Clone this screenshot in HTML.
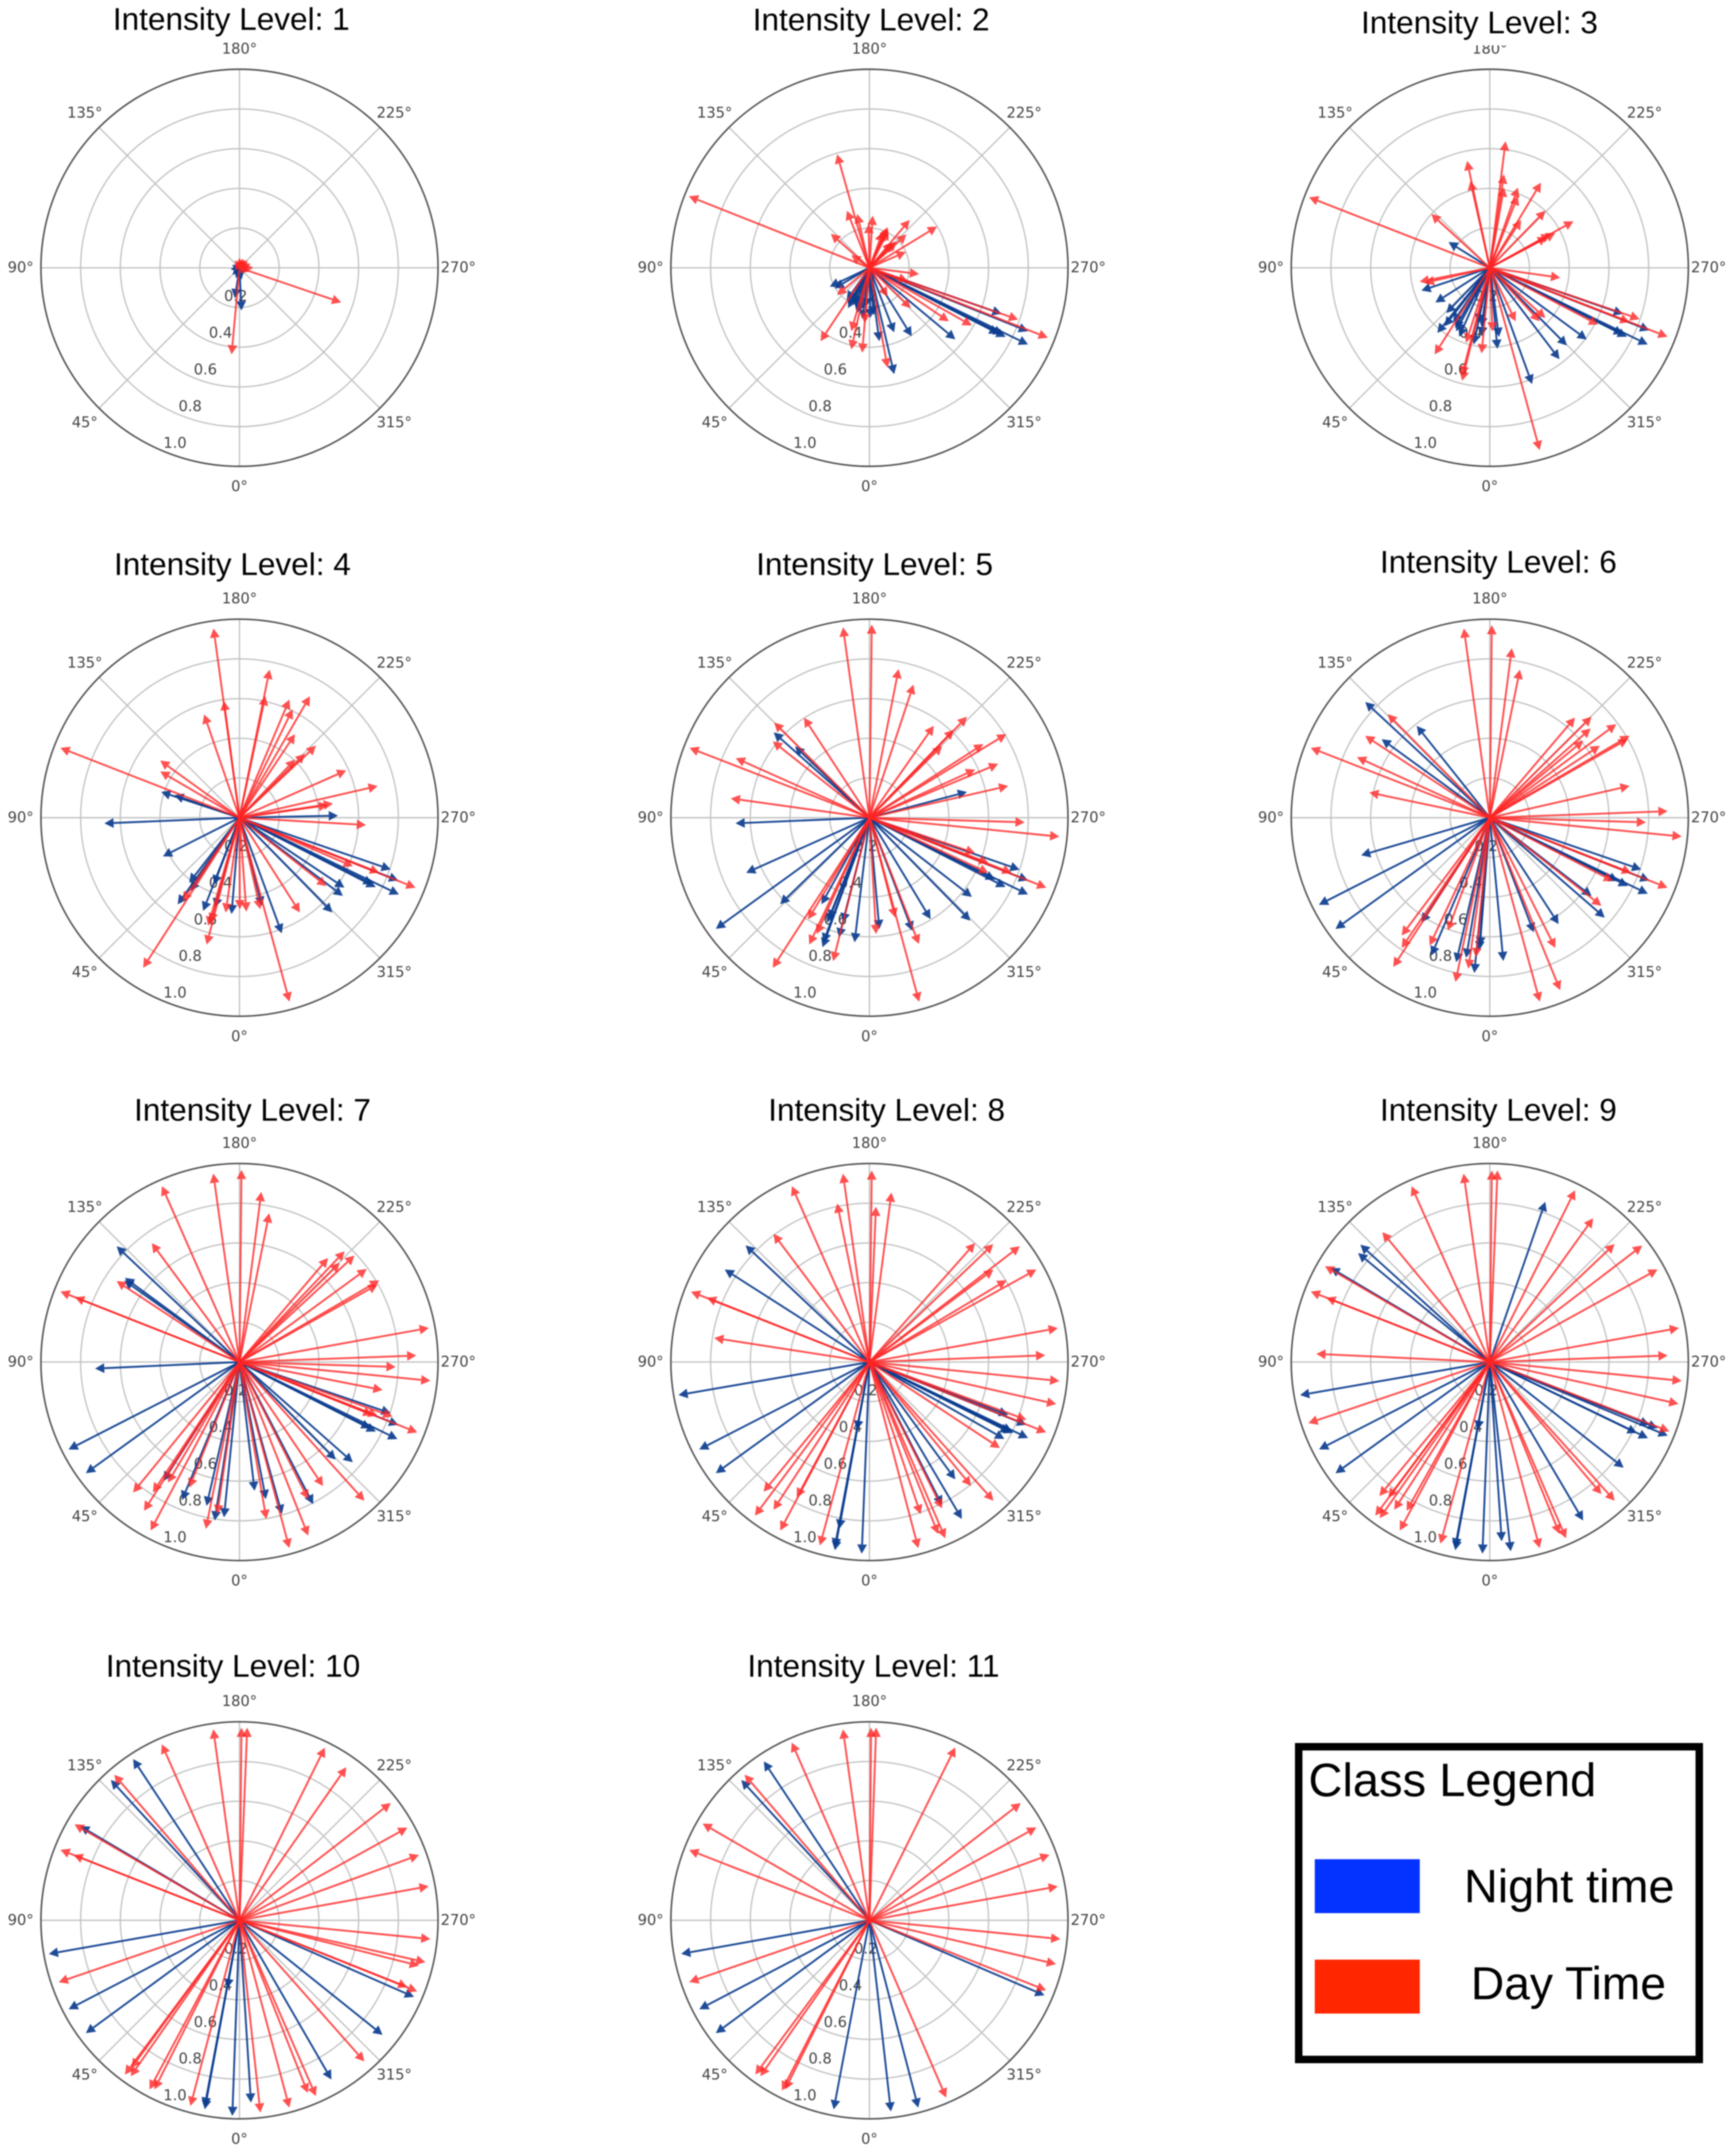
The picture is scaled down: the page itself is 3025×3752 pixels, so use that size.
<!DOCTYPE html>
<html lang="en">
<head>
<meta charset="utf-8">
<title>Intensity Level Polar Arrow Charts</title>
<style>
html,body{margin:0;padding:0;background:#fff;}
#figure{display:block;width:3025px;height:3752px;filter:blur(1px);background:#fff;}
.title{font-family:"Liberation Sans",sans-serif;font-size:55px;fill:#000;text-anchor:middle;}
.tick{font-family:"DejaVu Sans",sans-serif;font-size:25.5px;fill:#444;text-anchor:middle;dominant-baseline:central;}
.legend-text{font-family:"Liberation Sans",sans-serif;fill:#000;}
</style>
</head>
<body>
<svg id="figure" xmlns="http://www.w3.org/2000/svg" width="3025" height="3752" viewBox="0 0 3025 3752">
  <g id="panels"></g>
  <rect x="0" y="0" width="2000" height="17" fill="#fff"></rect>
  <rect x="2520" y="62" width="160" height="17" fill="#fff"></rect>
  <text class="title" x="403" y="52">Intensity Level: 1</text>
  <text class="title" x="1518" y="53">Intensity Level: 2</text>
  <text class="title" x="2578" y="58">Intensity Level: 3</text>
  <text class="title" x="405" y="1002">Intensity Level: 4</text>
  <text class="title" x="1524" y="1002">Intensity Level: 5</text>
  <text class="title" x="2611" y="998">Intensity Level: 6</text>
  <text class="title" x="440" y="1953">Intensity Level: 7</text>
  <text class="title" x="1545" y="1953">Intensity Level: 8</text>
  <text class="title" x="2611" y="1953">Intensity Level: 9</text>
  <text class="title" x="406" y="2922">Intensity Level: 10</text>
  <text class="title" x="1522" y="2922">Intensity Level: 11</text>
  <g>
    <rect x="2263" y="3044" width="698" height="545" fill="#fff" stroke="#000" stroke-width="13"></rect>
    <text class="legend-text" x="2280" y="3130" font-size="82">Class Legend</text>
    <rect x="2291" y="3240" width="183" height="94" fill="#0433ff"></rect>
    <text class="legend-text" x="2551" y="3315" font-size="81.5">Night time</text>
    <rect x="2291" y="3415" width="183" height="94" fill="#ff2600"></rect>
    <text class="legend-text" x="2563" y="3484" font-size="80.5">Day Time</text>
  </g>
</svg>
<script>
// Each pair: [direction in degrees, magnitude]
const level1Night = [[357.3,.215],[8.7,.155],[80,.045],[45,.05],[20,.055],[350,.06],[110,.04]];
const level1Day = [[288.8,.541],[5.2,.438],[270,.07],[180,.05],[230,.055],[250,.06],[200,.05],[150,.045],[290,.055],[215,.05]];

const level2Night = [[295.8,.887],[296.9,.769],[291.8,.86],[289.2,.705],[309.8,.563],[328.3,.405],[339,.348],[346.9,.55],[352.3,.373],[359,.253],[15.5,.237],[30.1,.215],[64.6,.221],[59.4,.203],[25,.197],[22,.2],[18,.22],[35,.2],[28,.23],[8,.26],[12,.22],[5,.2],[355,.24],[296.5,.75],[297,.73]];
const level2Day = [[111.6,.978],[164.1,.594],[158.5,.309],[167.2,.278],[183.6,.263],[179,.221],[131.4,.259],[125,.111],[220,.315],[238.6,.399],[204,.224],[200.3,.192],[228,.251],[223.9,.18],[246.4,.2],[277.2,.252],[291.4,.965],[289.2,.793],[299.4,.592],[304,.482],[314.3,.291],[327.7,.171],[289,.204],[33.7,.444],[12.6,.421],[4.9,.429],[5.1,.279],[16,.332],[50,.213],[349.7,.511],[205,.22],[203,.2],[207,.21],[226,.19],[222,.17]];

const level3Night = [[295.9,.884],[296.7,.773],[291.4,.863],[289.1,.71],[306.5,.607],[315.2,.551],[322.7,.579],[340,.623],[352.4,.351],[354.6,.41],[6.9,.347],[11.9,.395],[12.5,.285],[28,.362],[38.9,.421],[43.9,.316],[57.5,.325],[71.6,.363],[122,.245],[37.7,.372],[30,.35],[24,.38],[34,.33],[8,.3],[296.5,.75]];
const level3Day = [[111.3,.977],[187.1,.642],[168,.55],[167.4,.448],[188.6,.476],[190,.411],[199.3,.428],[201.3,.389],[211,.5],[224.2,.401],[213.2,.288],[240.9,.482],[242,.373],[241.7,.327],[132.6,.4],[278,.358],[291.2,.96],[288.9,.797],[291.3,.755],[297.7,.616],[312.1,.377],[317,.368],[334.3,.299],[344.7,.952],[357.6,.32],[5.5,.433],[13.8,.586],[17.6,.396],[32.5,.517],[78.8,.36],[77,.336],[14.5,.56],[241,.35]];

const level4Night = [[295.7,.891],[297,.77],[291.6,.86],[288.9,.805],[307.1,.653],[303.7,.635],[315.6,.668],[339.9,.62],[345.7,.458],[4.7,.487],[15.2,.469],[21.3,.504],[20.9,.36],[33.9,.445],[37.7,.414],[35.5,.536],[63.2,.432],[87.6,.681],[268.8,.496],[108.2,.415],[109.1,.347],[296.5,.75]];
const level4Day = [[111.3,.968],[172.2,.962],[172.4,.593],[161.1,.55],[125.8,.492],[120.3,.462],[191.5,.761],[192,.626],[202.9,.646],[206.1,.608],[210.1,.707],[213.6,.505],[226.7,.529],[225.7,.46],[223.7,.405],[246.1,.588],[257.1,.714],[261.4,.476],[261.9,.45],[273.3,.638],[291.7,.954],[291.5,.756],[293.2,.621],[308.2,.557],[327.5,.566],[344.8,.96],[347.2,.473],[355.8,.474],[359.8,.461],[8.3,.483],[14.5,.66],[16.2,.567],[15.3,.547],[34.3,.508],[32.7,.898]];

const level5Night = [[295.8,.887],[297,.769],[291.6,.859],[289.1,.8],[296.2,.705],[307.7,.652],[315.6,.726],[328.9,.596],[339.2,.609],[354.9,.563],[6.8,.632],[14.3,.622],[19.9,.694],[21.7,.55],[14.2,.544],[29,.498],[45.9,.626],[54.1,.955],[65.9,.68],[87.6,.675],[255.2,.508],[131.7,.646],[133.8,.519],[20.3,.67],[22,.57]];
const level5Day = [[111.2,.972],[172.1,.968],[180.7,.973],[191.1,.763],[198.3,.706],[146.8,.602],[135,.678],[128.3,.62],[114,.737],[97.9,.705],[215,.565],[224,.707],[223.8,.613],[225.3,.515],[238.6,.808],[237.1,.683],[247.3,.703],[245.5,.585],[257.1,.717],[271.7,.782],[275.7,.961],[291.6,.958],[291.2,.768],[290.8,.641],[288.5,.561],[294.9,.66],[338.6,.683],[344.9,.96],[345.5,.519],[356.7,.587],[14.2,.745],[25.4,.707],[24.4,.643],[31.1,.598],[32.8,.899]];

const level6Night = [[295.7,.883],[296.3,.776],[296.3,.72],[291.5,.864],[288.9,.806],[307.6,.647],[311,.767],[327.1,.638],[339,.618],[354.6,.725],[5.7,.786],[4.6,.671],[9.6,.716],[13.1,.747],[23,.754],[33.1,.63],[54.2,.958],[63,.966],[73.7,.675],[141.5,.591],[132.9,.856],[126,.673],[4.4,.65]];
const level6Day = [[111.3,.968],[172.2,.962],[180.6,.97],[187.4,.861],[191.5,.761],[135.4,.732],[123.3,.751],[114.5,.735],[101.8,.62],[220.4,.662],[225.2,.722],[228.5,.678],[230.5,.61],[233.5,.792],[236.8,.662],[239.6,.816],[240.3,.8],[257.2,.722],[267.9,.896],[271.7,.787],[275.6,.971],[291.5,.962],[291.3,.764],[297.2,.698],[308.3,.716],[333.3,.734],[337.8,.938],[344.8,.96],[5.7,.706],[8.1,.768],[11.8,.845],[20.4,.606],[25.2,.711],[36.8,.741],[34.1,.792],[32.9,.895]];

const level7Night = [[296,.885],[297,.771],[291.6,.86],[288.7,.804],[315.4,.69],[311.5,.762],[332.6,.806],[344.4,.795],[349.1,.703],[353.3,.653],[5.7,.786],[8.9,.808],[12.9,.743],[22.6,.753],[32.6,.711],[54.1,.955],[62.9,.967],[87.4,.728],[133.3,.85],[126.3,.716],[125.3,.711],[296.8,.74]];
const level7Day = [[111.5,.969],[111.5,.89],[172.1,.958],[180.6,.968],[187.3,.864],[191.3,.764],[156.2,.968],[143.6,.744],[123.4,.741],[220.4,.688],[223.5,.769],[225.3,.71],[227.2,.789],[233.8,.794],[239.7,.815],[240.7,.797],[259.8,.969],[267.9,.891],[271.8,.787],[275.6,.966],[281.1,.734],[291.6,.963],[289.6,.818],[291.3,.746],[291.7,.721],[318,.94],[326,.753],[338.4,.94],[333.4,.772],[345,.97],[350.3,.802],[8.3,.774],[11.4,.857],[21.8,.681],[30.7,.706],[33.6,.788],[32.7,.89],[27.8,.959],[39.2,.848]];

const level8Night = [[295.6,.886],[296.3,.807],[299.7,.782],[291.8,.851],[290.9,.748],[323.8,.732],[329.5,.917],[333.1,.808],[2.3,.966],[10.4,.964],[10.3,.854],[10.5,.347],[54.1,.955],[62.8,.964],[80.2,.976],[122.6,.865],[133.3,.857],[296.6,.79],[296,.8],[10.6,.95]];
const level8Day = [[111.5,.966],[111.6,.88],[98.8,.791],[156.2,.968],[172,.958],[180.7,.965],[182.4,.783],[187.4,.861],[168.5,.815],[143.2,.806],[221.6,.801],[226.4,.861],[233.3,.779],[232.4,.956],[239.2,.804],[241,.961],[259.8,.964],[267.8,.886],[275.7,.961],[282.7,.964],[291.7,.958],[290.2,.842],[303.4,.787],[318.2,.937],[320.6,.807],[336.7,.966],[338.2,.932],[333.6,.823],[341.4,.808],[345.3,.969],[15.1,.957],[27.9,.96],[28.2,.774],[33,.887],[36.7,.965],[39.2,.843]];

const level9Night = [[292.5,.97],[295.7,.884],[295.8,.822],[291.5,.908],[291.5,.864],[308.3,.859],[329.5,.926],[353.7,.959],[356.2,.905],[2.2,.966],[10.4,.964],[10.2,.347],[54.2,.958],[62.9,.966],[80.1,.97],[199.1,.854],[132.2,.88],[129.6,.861],[120.6,.932],[10.6,.95]];
const level9Day = [[111.5,.969],[111.5,.885],[120.2,.96],[92.7,.875],[71.4,.964],[156,.969],[172.1,.958],[180.6,.965],[182.3,.966],[140.4,.849],[206.4,.966],[215.7,.892],[226.6,.865],[232.6,.966],[241.1,.965],[259.8,.968],[267.9,.896],[275.6,.971],[282.5,.973],[291.1,.969],[318,.94],[319.8,.871],[336.6,.967],[337.9,.934],[345,.97],[15.2,.948],[28.1,.962],[29.2,.858],[32.9,.886],[36.8,.853],[39.5,.874],[36.7,.965],[35.2,.962]];

const level10Night = [[293.7,.96],[308.7,.923],[330,.926],[356.4,.92],[2.1,.986],[10.4,.968],[10.2,.347],[53.7,.96],[62.5,.97],[80,.975],[146.6,.973],[137.5,.959],[120.6,.932],[10.6,.955]];
const level10Day = [[111.5,.969],[111.5,.898],[120.2,.961],[71.1,.962],[139.3,.967],[156.2,.969],[172.2,.971],[180.6,.97],[182.3,.971],[206.3,.97],[214.9,.94],[232.2,.964],[241.1,.966],[250,.962],[259.8,.968],[275.6,.966],[282.7,.96],[284.2,.932],[291.8,.964],[291.7,.91],[318.5,.949],[336.5,.965],[338.4,.935],[345.1,.976],[353.8,.974],[14.8,.967],[28,.965],[26.7,.953],[36.6,.968],[34.9,.957],[36.2,.921]];

const level11Night = [[293.2,.959],[353.6,.969],[345.4,.975],[10.7,.969],[53.7,.96],[62.4,.967],[79.9,.963],[146.4,.961],[137.6,.957]];
const level11Day = [[111.3,.974],[120.1,.971],[71.1,.959],[139.4,.966],[156.4,.977],[172.1,.971],[180.5,.97],[182,.971],[206.4,.972],[232.2,.964],[240.9,.962],[250,.965],[259.8,.964],[275.6,.966],[283.2,.965],[291.6,.957],[336.6,.973],[27.2,.964],[26.5,.952],[36.5,.966],[35,.958]];

const angleTicks = ["0°","45°","90°","135°","180°","225°","270°","315°"];
const angleTickValues = [0,45,90,135,180,225,270,315];
const radialTicks = ["0.2","0.4","0.6","0.8","1.0"];
const radialTickValues = [0.2,0.4,0.6,0.8,1.0];

const nightSeries = [level1Night,level2Night,level3Night,level4Night,level5Night,level6Night,level7Night,level8Night,level9Night,level10Night,level11Night];
const daySeries = [level1Day,level2Day,level3Day,level4Day,level5Day,level6Day,level7Day,level8Day,level9Day,level10Day,level11Day];

(function(){
  const NS = "http://www.w3.org/2000/svg";
  const R = 346;
  const colX = [417.3,1515,2596];
  const rowY = [466.7,1425,2373.6,3346.5];
  const root = document.getElementById("panels");

  function make(tag, attrs, parent){
    const el = document.createElementNS(NS, tag);
    for (const k in attrs) el.setAttribute(k, attrs[k]);
    parent.appendChild(el);
    return el;
  }
  function axisX(cx, deg, r){ return cx - Math.sin(deg*Math.PI/180)*r*R; }
  function axisY(cy, deg, r){ return cy + Math.cos(deg*Math.PI/180)*r*R; }

  function drawArrow(parent, cx, cy, pair, color, opacity, name){
    const deg = pair[0], mag = pair[1];
    const tipX = axisX(cx,deg,mag), tipY = axisY(cy,deg,mag);
    const ux = (tipX-cx), uy = (tipY-cy);
    const len = Math.hypot(ux,uy) || 1;
    const nx = ux/len, ny = uy/len;
    const headLen = 16, headW = 8.5;
    const bx = tipX-nx*headLen, by = tipY-ny*headLen;
    const g = make("g",{opacity:opacity},parent);
    
    
    make("line",{x1:cx,y1:cy,x2:bx,y2:by,stroke:color,"stroke-width":3.3},g);
    make("polygon",{points:[tipX,tipY,bx-ny*headW,by+nx*headW,bx+ny*headW,by-nx*headW].join(" "),fill:color},g);
  }

  for (let i=0;i<nightSeries.length;i++){
    const cx = colX[i%3], cy = rowY[Math.floor(i/3)];
    const panel = make("g",{},root);
    
    

    radialTickValues.forEach(function(v,idx){
      if (idx===radialTickValues.length-1) return;
      const ring = make("circle",{cx:cx,cy:cy,r:v*R,fill:"none",stroke:"#c4c4c4","stroke-width":2.4},panel);
      
      
    });
    angleTickValues.forEach(function(a,idx){
      const spoke = make("line",{x1:cx,y1:cy,x2:axisX(cx,a,1),y2:axisY(cy,a,1),stroke:"#c4c4c4","stroke-width":2.4},panel);
      
      
      const label = make("text",{x:axisX(cx,a,1.102),y:axisY(cy,a,1.102),class:"tick"},panel);
      label.textContent = angleTicks[idx];
      
      
    });
    const outer = make("circle",{cx:cx,cy:cy,r:R,fill:"none",stroke:"#555","stroke-width":2.8},panel);
    
    
    radialTickValues.forEach(function(v,idx){
      const label = make("text",{x:axisX(cx,22.5,v)+20,y:axisY(cy,22.5,v)-14,class:"tick"},panel);
      label.textContent = radialTicks[idx];
      
      
    });

    nightSeries[i].forEach(function(p){ drawArrow(panel,cx,cy,p,"#0b3c8f",0.92,"night-arrow"); });
    daySeries[i].forEach(function(p){ drawArrow(panel,cx,cy,p,"#ff2424",0.8,"day-arrow"); });
  }
})();
</script>
</body>
</html>
